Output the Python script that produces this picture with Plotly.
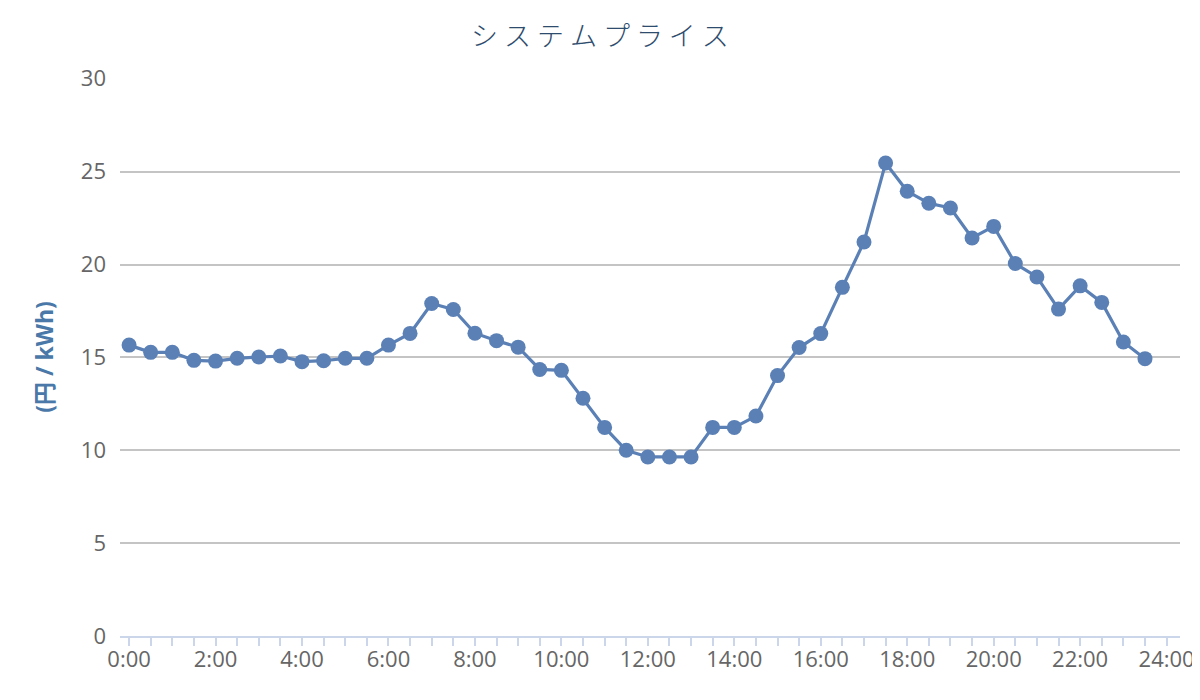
import plotly.graph_objects as go

hours = [i * 0.5 for i in range(48)]
prices = [15.66, 15.27, 15.27, 14.84, 14.80, 14.95, 15.02, 15.07, 14.77, 14.82, 14.95, 14.95,
          15.66, 16.29, 17.9, 17.58, 16.3, 15.9, 15.55, 14.35, 14.3, 12.8, 11.23, 10.0,
          9.64, 9.64, 9.64, 11.23, 11.23, 11.84, 14.02, 15.53, 16.28, 18.77, 21.21, 25.46,
          23.94, 23.3, 23.04, 21.43, 22.05, 20.05, 19.33, 17.6, 18.85, 17.96, 15.83, 14.93]
tick_vals = [0, 2, 4, 6, 8, 10, 12, 14, 16, 18, 20, 22, 24]
tick_text = ["0:00", "2:00", "4:00", "6:00", "8:00", "10:00", "12:00", "14:00", "16:00",
             "18:00", "20:00", "22:00", "24:00"]
y_ticks = [0, 5, 10, 15, 20, 25, 30]

color = "#5a80b6"

fig = go.Figure()
fig.add_trace(go.Scatter(
    x=hours, y=prices, mode="lines+markers",
    line=dict(color=color, width=3.2),
    marker=dict(color=color, size=15),
    hoverinfo="x+y", showlegend=False,
))

fig.update_layout(
    width=1200, height=700,
    margin=dict(l=112, r=28, t=70, b=72),
    paper_bgcolor="white", plot_bgcolor="white",
    title=dict(text="シ ス テ ム プ ラ イ ス", x=0.4933, xanchor="center", y=0.9586, yanchor="middle",
               font=dict(family="Noto Sans CJK JP", size=27, color="#2e4c6d", weight=300)),
    font=dict(family="Open Sans", color="#666666"),
)
fig.update_xaxes(
    range=[-0.21, 24.31], tickvals=tick_vals, ticktext=tick_text,
    tickfont=dict(size=22, color="#666666"),
    showgrid=False, zeroline=False,
    showline=True, linecolor="#ccd6eb", linewidth=2,
    ticks="outside", ticklen=8, tickcolor="#ccd6eb", tickwidth=2,
    ticklabelstandoff=-5,
    minor=dict(tickvals=[i * 0.5 for i in range(49)], ticks="outside", ticklen=8,
               tickcolor="#ccd6eb", tickwidth=2, showgrid=False),
)
fig.update_yaxes(
    range=[0, 30.04], tickvals=y_ticks,
    tickfont=dict(size=22, color="#666666"),
    showgrid=True, gridcolor="#c4c4c4", gridwidth=1.5,
    zeroline=False, showline=False, ticks="",
    ticklabelstandoff=13,
    title=dict(text="(円 / kWh)", font=dict(family="Open Sans, Noto Sans CJK JP", size=23,
                                          color="#4a78a8", weight="bold"), standoff=20),
)

fig.write_html("out.html")
